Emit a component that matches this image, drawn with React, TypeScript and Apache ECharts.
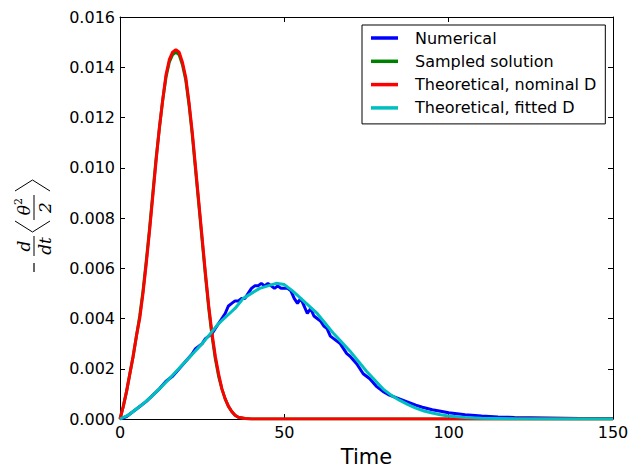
import React, { useEffect, useRef } from "react";
import * as echarts from "echarts";

// ---- data ----
const xTicks = [0, 50, 100, 150];
const yTicks = [0, 0.002, 0.004, 0.006, 0.008, 0.01, 0.012, 0.014, 0.016];

const seriesNames = [
  "Numerical",
  "Sampled solution",
  "Theoretical, nominal D",
  "Theoretical, fitted D",
];

const blueT = [0, 2, 4, 6, 8, 10, 12, 14, 16, 18, 20, 22, 23, 24, 25, 26, 27, 28, 29, 30, 31, 32, 33, 34, 35, 36, 37, 38, 39, 40, 41, 42, 43, 44, 45, 46, 47, 48, 49, 50, 51, 52, 53, 54, 55, 56, 57, 58, 59, 60, 61, 62, 63, 64, 65, 66, 67, 68, 69, 70, 72, 74, 76, 78, 80, 82, 84, 86, 88, 90, 92, 95, 98, 100, 105, 110, 115, 120, 130, 140, 150];
const blueV = [0, 0.0001, 0.0003, 0.0005, 0.0007, 0.00095, 0.0012, 0.0015, 0.0017, 0.002, 0.0023, 0.0026, 0.0028, 0.0029, 0.003, 0.0032, 0.0033, 0.0034, 0.0036, 0.0038, 0.004, 0.0042, 0.0045, 0.0046, 0.0047, 0.0047, 0.0048, 0.0048, 0.005, 0.0052, 0.0053, 0.0053, 0.0054, 0.0053, 0.0054, 0.0053, 0.0052, 0.0053, 0.0052, 0.0052, 0.0052, 0.0051, 0.0048, 0.0046, 0.0048, 0.0045, 0.0042, 0.0044, 0.0041, 0.004, 0.0039, 0.0037, 0.0036, 0.0033, 0.0032, 0.0031, 0.003, 0.0028, 0.0026, 0.0025, 0.0022, 0.0018, 0.0016, 0.0013, 0.0011, 0.00095, 0.00085, 0.00075, 0.00065, 0.00055, 0.00047, 0.00037, 0.0003, 0.00025, 0.00017, 0.00012, 0.00008, 0.00006, 0.00004, 0.00002, 0.00002];

const greenT = [0, 1, 2, 3, 4, 5, 6, 7, 8, 9, 10, 11, 12, 13, 14, 15, 16, 17, 18, 19, 20, 21, 22, 23, 24, 25, 26, 27, 28, 29, 30, 31, 32, 33, 34, 35, 36, 38, 40, 60, 80, 100, 150];
const greenV = [0, 0.0005, 0.0011, 0.0018, 0.0025, 0.0033, 0.0041, 0.0051, 0.0063, 0.0076, 0.009, 0.0104, 0.0116, 0.0127, 0.0136, 0.0142, 0.0145, 0.0146, 0.0145, 0.0141, 0.0135, 0.0125, 0.0113, 0.0099, 0.0085, 0.0071, 0.0057, 0.0044, 0.0033, 0.0024, 0.0017, 0.0012, 0.0008, 0.0005, 0.0003, 0.00015, 0.00007, 0.00002, 0, 0, 0, 0, 0];

const redT = [0, 1, 2, 3, 4, 5, 6, 7, 8, 9, 10, 11, 12, 13, 14, 15, 16, 17, 18, 19, 20, 21, 22, 23, 24, 25, 26, 27, 28, 29, 30, 31, 32, 33, 34, 35, 36, 38, 40, 60, 80, 100, 150];
const redV = [0, 0.0005, 0.0011, 0.0018, 0.0025, 0.0033, 0.004, 0.005, 0.0062, 0.0075, 0.0089, 0.0103, 0.0116, 0.0127, 0.0137, 0.0143, 0.0146, 0.0147, 0.0146, 0.0142, 0.0136, 0.0126, 0.0114, 0.01, 0.0086, 0.0072, 0.0058, 0.0045, 0.0034, 0.0025, 0.0018, 0.0012, 0.0008, 0.0005, 0.0003, 0.00015, 0.00007, 0.00002, 0, 0, 0, 0, 0];

const cyanT = [0, 2.5, 5, 7.5, 10, 12.5, 15, 17.5, 20, 22.5, 25, 27.5, 30, 32.5, 35, 37.5, 40, 42.5, 45, 47.5, 50, 52.5, 55, 57.5, 60, 62.5, 65, 67.5, 70, 72.5, 75, 77.5, 80, 82.5, 85, 87.5, 90, 92.5, 95, 97.5, 100, 105, 110, 120, 135, 150];
const cyanV = [0, 0.00015, 0.0004, 0.00065, 0.00095, 0.00127, 0.0016, 0.00195, 0.0023, 0.00265, 0.003, 0.0034, 0.0038, 0.0041, 0.0044, 0.0048, 0.005, 0.0052, 0.0053, 0.0054, 0.00535, 0.0051, 0.0048, 0.0045, 0.0042, 0.0038, 0.0034, 0.00305, 0.0027, 0.0023, 0.0019, 0.00155, 0.0012, 0.00095, 0.00075, 0.00058, 0.00043, 0.00032, 0.00024, 0.00017, 0.00012, 0.00006, 0.00003, 0.00001, 0, 0];

const colors = ["#0000ff", "#008000", "#ff0000", "#00bfbf"];

const zip = (t: number[], v: number[]) => t.map((x, i) => [x, v[i]]);

export default function App() {
  const ref = useRef<HTMLDivElement>(null);
  useEffect(() => {
    if (!ref.current) return;
    const chart = echarts.init(ref.current, null, { renderer: "svg" });
    const font = "DejaVu Sans";
    const datasets = [zip(blueT, blueV), zip(greenT, greenV), zip(redT, redV), zip(cyanT, cyanV)];
    const tickStyle = { show: true, inside: true, length: 5, lineStyle: { color: "#000", width: 1 } };
    const axisLine = { show: true, onZero: false, lineStyle: { color: "#000", width: 1 } };
    const xMin = xTicks[0], xMax = xTicks[xTicks.length - 1];
    const yMin = yTicks[0], yMax = yTicks[yTicks.length - 1];
    const mathFont = "DejaVu Serif";
    const blk = "#000";
    chart.setOption({
      animation: false,
      backgroundColor: "#fff",
      grid: { left: 120, right: 20, top: 17, bottom: 49, containLabel: false, outerBoundsMode: "none" },
      xAxis: [
        {
          type: "value", min: xMin, max: xMax, interval: 50,
          name: "Time", nameLocation: "middle", nameGap: 27,
          nameTextStyle: { fontFamily: font, fontSize: 21, color: blk },
          axisLine, axisTick: tickStyle, splitLine: { show: false },
          axisLabel: { fontFamily: font, fontSize: 16, color: blk, margin: 5 },
        },
        {
          type: "value", position: "top", min: xMin, max: xMax, interval: 50,
          axisLine, axisTick: tickStyle, splitLine: { show: false }, axisLabel: { show: false },
        },
      ],
      yAxis: [
        {
          type: "value", min: yMin, max: yMax, interval: 0.002,
          axisLine, axisTick: tickStyle, splitLine: { show: false },
          axisLabel: { fontFamily: font, fontSize: 16, color: blk, margin: 5, formatter: (v: number) => v.toFixed(3) },
        },
        {
          type: "value", position: "right", min: yMin, max: yMax, interval: 0.002,
          axisLine, axisTick: tickStyle, splitLine: { show: false }, axisLabel: { show: false },
        },
      ],
      legend: {
        orient: "vertical", left: 362, top: 25,
        padding: [5, 9, 8, 9], itemGap: 7.3,
        itemWidth: 27, itemHeight: 3.5, icon: "rect",
        borderColor: blk, borderWidth: 1, backgroundColor: "#fff",
        textStyle: { fontFamily: font, fontSize: 16, color: blk, lineHeight: 16, padding: [0, 0, 0, 12] },
        data: seriesNames,
      },
      series: seriesNames.map((name, i) => ({
        name, type: "line", data: datasets[i], showSymbol: false, symbol: "none",
        color: colors[i], lineStyle: { color: colors[i], width: 3 },
        xAxisIndex: 0, yAxisIndex: 0, z: 2 + i,
      })),
      graphic: [
        {
          type: "group", x: 34, y: 228, rotation: Math.PI / 2,
          children: [
            { type: "line", shape: { x1: -44, y1: 0, x2: -35, y2: 0 }, style: { stroke: blk, lineWidth: 1.2 } },
            { type: "text", x: -18, y: -2, style: { text: "d", fontFamily: mathFont, fontStyle: "italic", fontSize: 17, fill: blk, align: "center", verticalAlign: "bottom" } },
            { type: "line", shape: { x1: -28, y1: 0, x2: -8, y2: 0 }, style: { stroke: blk, lineWidth: 1 } },
            { type: "text", x: -18, y: 2, style: { text: "dt", fontFamily: mathFont, fontStyle: "italic", fontSize: 17, fill: blk, align: "center", verticalAlign: "top" } },
            { type: "polyline", shape: { points: [[7, -19], [-4, -1.5], [7, 16]] }, style: { stroke: blk, lineWidth: 1, fill: "none" } },
            { type: "text", x: 18, y: -2, style: { text: "θ", fontFamily: mathFont, fontStyle: "italic", fontSize: 17, fill: blk, align: "center", verticalAlign: "bottom" } },
            { type: "text", x: 23, y: -10, style: { text: "2", fontFamily: mathFont, fontSize: 11, fill: blk, align: "left", verticalAlign: "bottom" } },
            { type: "line", shape: { x1: 8, y1: 0, x2: 33, y2: 0 }, style: { stroke: blk, lineWidth: 1 } },
            { type: "text", x: 20.5, y: 2, style: { text: "2", fontFamily: mathFont, fontStyle: "italic", fontSize: 17, fill: blk, align: "center", verticalAlign: "top" } },
            { type: "polyline", shape: { points: [[37, -19], [48, -1.5], [37, 16]] }, style: { stroke: blk, lineWidth: 1, fill: "none" } },
          ],
        },
      ],
    });
    return () => chart.dispose();
  }, []);
  return (
    <div
      ref={ref}
      style={{ position: "fixed", left: 0, top: 0, width: 633, height: 468, background: "#fff" }}
    />
  );
}
